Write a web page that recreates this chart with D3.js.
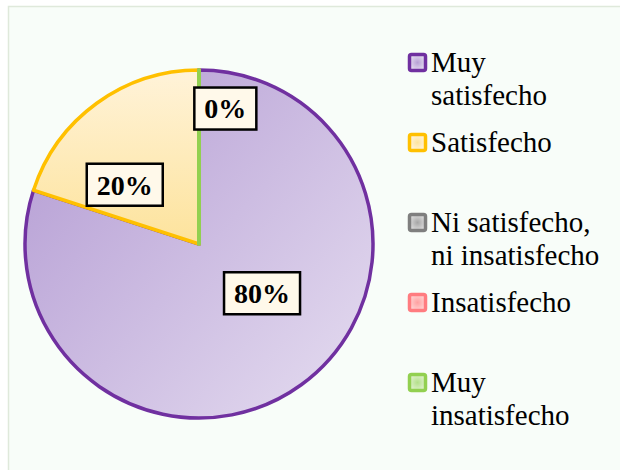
<!DOCTYPE html>
<meta charset="utf-8">
<title>Satisfacción</title>
<style>
body { margin: 0; background: #fff; }
svg { display: block; }
</style>
<svg width="620" height="470"></svg>
<script src="https://d3js.org/d3.v7.min.js"></script>
<script>
// data
var categories = ["Muy satisfecho", "Satisfecho", "Ni satisfecho, ni insatisfecho", "Insatisfecho", "Muy insatisfecho"]
var legendLines = [["Muy", "satisfecho"], ["Satisfecho"], ["Ni satisfecho,", "ni insatisfecho"], ["Insatisfecho"], ["Muy", "insatisfecho"]]
var values = [80, 20, 0, 0, 0]
var labelText = ["80%", "20%", null, null, "0%"]

// look
var FONT = "'Liberation Serif', 'Times New Roman', Times, serif"
var strokeColors = ["#7030a0", "#ffc000", "#7f7f7f", "#ff7c80", "#92d050"]
var lightColors = ["#e3daef", "#fff3d9", "#d9d9d9", "#ffd0d0", "#dcf0c8"]
var darkColors = ["#b7a0d5", "#fde39c", "#a6a6a6", "#ffa0a0", "#b4e08a"]
// where Excel put the boxes: angle (deg, clockwise from top) and distance from centre
var labelAnchors = [[128, 80], [308.6, 95], null, null, [11, 138]]

var svg = d3.select("svg"),
	width = +svg.attr("width"),
	height = +svg.attr("height")

svg.append("rect").attr("width", width).attr("height", height).attr("fill", "#fff")
svg.append("rect")
	.attr("x", 8.5).attr("y", 6.5)
	.attr("width", width).attr("height", height)
	.attr("fill", "#f8fdf9")
	.attr("stroke", "#dfe9db").attr("stroke-width", 1.5)

var cx = 199, cy = 244, radius = 174

// gradients live in the pie group's coordinates (centre at 0,0)
var defs = svg.append("defs")
categories.forEach(function(c, i) {
	var g = defs.append("linearGradient")
		.attr("id", "grad" + i)
		.attr("gradientUnits", "userSpaceOnUse")
	if (i == 1) {
		g.attr("x1", 0).attr("y1", -radius).attr("x2", 0).attr("y2", 0)
		g.append("stop").attr("offset", 0).attr("stop-color", lightColors[i])
		g.append("stop").attr("offset", 1).attr("stop-color", darkColors[i])
	} else {
		g.attr("x1", -radius).attr("y1", -radius * 0.6).attr("x2", radius * 0.8).attr("y2", radius)
		g.append("stop").attr("offset", 0).attr("stop-color", darkColors[i])
		g.append("stop").attr("offset", 1).attr("stop-color", lightColors[i])
	}
	var r = defs.append("radialGradient").attr("id", "sq" + i)
	r.append("stop").attr("offset", 0).attr("stop-color", darkColors[i])
	r.append("stop").attr("offset", 1).attr("stop-color", lightColors[i])
})

var pie = d3.pie().sort(null).value(function(d) { return d })
var arc = d3.arc().innerRadius(0).outerRadius(radius)
var arcs = pie(values)

var slices = svg.append("g")
	.attr("transform", "translate(" + cx + "," + cy + ")")
	.selectAll("path")
	.data(arcs)
	.enter().append("path")
		.attr("d", arc)
		.attr("fill", function(d, i) { return "url(#grad" + i + ")" })
		.attr("stroke", function(d, i) { return strokeColors[i] })
		.attr("stroke-width", function(d, i) { return d.value == 0 ? 4 : 3.5 })
		.attr("stroke-linejoin", "round")

// data labels
var labels = svg.append("g")
	.attr("transform", "translate(" + cx + "," + cy + ")")
	.selectAll("g")
	.data(arcs.filter(function(d, i) { return labelText[i] }))
	.enter().append("g")
		.attr("transform", function(d) {
			var a = labelAnchors[d.index]
			var p = d3.pointRadial(a[0] * Math.PI / 180, a[1])
			return "translate(" + p[0] + "," + p[1] + ")"
		})

labels.append("rect")
labels.append("text")
	.attr("text-anchor", "middle")
	.attr("dy", "0.35em")
	.style("font-family", FONT)
	.style("font-size", "28px")
	.style("font-weight", "bold")
	.text(function(d) { return labelText[d.index] })
labels.each(function() {
	var g = d3.select(this)
	var b = g.select("text").node().getBBox()
	g.select("rect")
		.attr("x", -b.width / 2 - 10).attr("y", -21)
		.attr("width", b.width + 20).attr("height", 42)
		.attr("fill", "#fff9ea")
		.attr("stroke", "#000").attr("stroke-width", 2.5)
})

// legend
var legend = svg.append("g")
	.selectAll("g")
	.data(categories)
	.enter().append("g")
		.attr("transform", function(d, i) { return "translate(408," + (72 + i * 80) + ")" })

legend.append("rect")
	.attr("x", 1.5).attr("y", -17.5)
	.attr("width", 16).attr("height", 16)
	.attr("rx", 2)
	.attr("fill", function(d, i) { return "url(#sq" + i + ")" })
	.attr("stroke", function(d, i) { return strokeColors[i] })
	.attr("stroke-width", 3.5)

legend.append("text")
	.attr("x", 23)
	.style("font-family", FONT)
	.style("font-size", "29px")
	.selectAll("tspan")
	.data(function(d, i) { return legendLines[i] })
	.enter().append("tspan")
		.attr("x", 23)
		.attr("y", function(d, j) { return j * 33 })
		.text(function(d) { return d })
</script>
